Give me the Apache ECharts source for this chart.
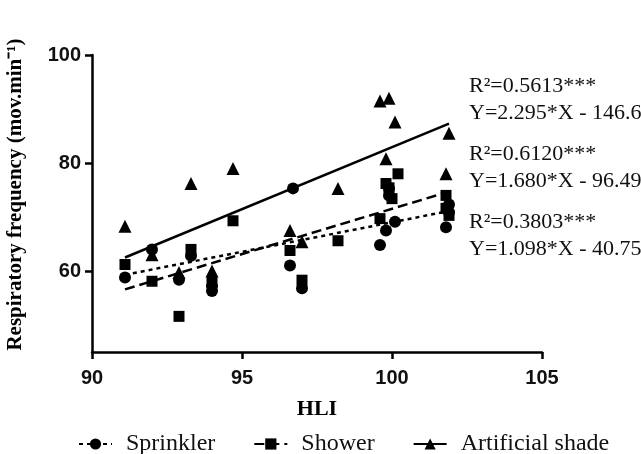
<!DOCTYPE html>
<html>
<head>
<meta charset="utf-8">
<script src="https://cdn.jsdelivr.net/npm/echarts@6/dist/echarts.min.js"></script>
<style>
  html, body { margin: 0; padding: 0; background: #fff; }
  #chart { width: 641px; height: 454px; }
</style>
</head>
<body>
<div id="chart"></div>
<script>
// points: [HLI, respiratory frequency]
var sprinkler = [
    [91.1, 58.8], [92.0, 64.0], [92.9, 58.4], [93.3, 62.8], [94.0, 57.2], [94.0, 56.3],
    [96.7, 75.3], [96.6, 61.0], [97.0, 56.8], [99.6, 64.8], [99.8, 67.5], [100.1, 69.1],
    [99.9, 75.3], [99.9, 74.0], [101.8, 68.1], [101.9, 70.9], [101.9, 72.3]
];
var shower = [
    [91.1, 61.2], [92.0, 58.1], [92.9, 51.6], [93.3, 64.0], [94.0, 58.0], [94.7, 69.3],
    [96.6, 63.8], [97.0, 58.3], [98.2, 65.6], [99.6, 69.7], [99.8, 76.2], [99.9, 75.4],
    [100.0, 73.4], [100.2, 78.0], [101.8, 74.0], [101.8, 71.6], [101.9, 70.3]
];
var shade = [
    [91.1, 68.3], [92.0, 63.0], [92.9, 59.7], [93.3, 76.2], [94.0, 60.0], [94.7, 79.0],
    [96.6, 67.5], [97.0, 65.4], [98.2, 75.3], [99.6, 91.5], [99.9, 92.0], [100.1, 87.6],
    [99.8, 80.8], [101.9, 85.5], [101.8, 78.0]
];
// regression line ends
var sprinklerFit = [[91.1, 59.3], [101.9, 71.1]];
var showerFit = [[91.1, 56.6], [101.9, 74.7]];
var shadeFit = [[91.1, 62.5], [101.9, 87.3]];

var seriesNames = ['Sprinkler', 'Shower', 'Artificial shade'];
var fitText = [
    ['R\u00b2=0.5613***', 'Y=2.295*X - 146.6'],
    ['R\u00b2=0.6120***', 'Y=1.680*X - 96.49'],
    ['R\u00b2=0.3803***', 'Y=1.098*X - 40.75']
];
var yTicks = [60, 80, 100];

var serif = '"Liberation Serif", "Times New Roman", serif';
var sans = '"Liberation Sans", Arial, sans-serif';

var myChart = echarts.init(document.getElementById('chart'));

function fitLine(name, data, symbol, type) {
    return {
        name: name,
        type: 'line',
        data: data,
        symbol: symbol,
        showSymbol: false,
        silent: true,
        lineStyle: { color: '#000', width: 2.5, type: type },
        itemStyle: { color: '#000' },
        z: 2
    };
}

function dots(name, data, symbol, size) {
    return {
        name: name,
        type: 'scatter',
        data: data,
        symbol: symbol,
        symbolSize: size,
        itemStyle: { color: '#000', opacity: 1 },
        z: 3
    };
}

var graphics = [];
fitText.forEach(function (lines, i) {
    graphics.push({
        type: 'text',
        left: 469,
        top: 73 + i * 68,
        style: {
            text: lines.join('\n'),
            font: '22px ' + serif,
            lineHeight: 27,
            fill: '#111'
        }
    });
});

var option = {
    animation: false,
    backgroundColor: '#fff',
    grid: { left: 92, right: 99, top: 55, bottom: 102, outerBoundsMode: 'none' },
    legend: {
        left: 73,
        top: 427,
        itemWidth: 33,
        itemHeight: 14,
        itemGap: 38,
        data: seriesNames,
        textStyle: { fontFamily: serif, fontSize: 24, color: '#111', padding: [0, 0, 0, 9] }
    },
    xAxis: {
        type: 'value',
        min: 90,
        max: 105,
        interval: 5,
        name: 'HLI',
        nameLocation: 'middle',
        nameGap: 46,
        nameTextStyle: { fontFamily: serif, fontSize: 22, fontWeight: 'bold', color: '#000' },
        axisLine: { lineStyle: { color: '#000', width: 2.5 } },
        axisTick: { length: 7, lineStyle: { color: '#000', width: 2.5 } },
        axisLabel: { margin: 16, fontFamily: sans, fontSize: 20, fontWeight: 'bold', color: '#111' },
        splitLine: { show: false }
    },
    yAxis: {
        type: 'value',
        min: 45,
        max: 100,
        name: 'Respiratory frequency (mov.min\u207b\u00b9)',
        nameLocation: 'middle',
        nameGap: 66,
        nameTextStyle: { fontFamily: serif, fontSize: 21, fontWeight: 'bold', color: '#000', padding: [0, 0, 0, 18] },
        axisLine: { show: true, lineStyle: { color: '#000', width: 2.5 } },
        axisTick: { show: true, length: 7, customValues: yTicks, lineStyle: { color: '#000', width: 2.5 } },
        axisLabel: { margin: 11, customValues: yTicks, fontFamily: sans, fontSize: 20, fontWeight: 'bold', color: '#111' },
        splitLine: { show: false }
    },
    graphic: graphics,
    series: [
        fitLine('Sprinkler', sprinklerFit, 'circle', [4, 4]),
        fitLine('Shower', showerFit, 'rect', [10, 5]),
        fitLine('Artificial shade', shadeFit, 'triangle', 'solid'),
        dots('Sprinkler', sprinkler, 'circle', 12),
        dots('Shower', shower, 'rect', 11),
        dots('Artificial shade', shade, 'triangle', 13)
    ]
};
myChart.setOption(option);
</script>
</body>
</html>
